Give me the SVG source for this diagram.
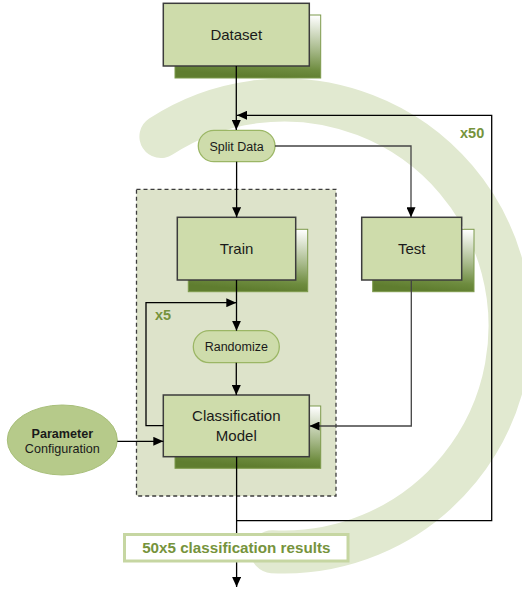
<svg xmlns="http://www.w3.org/2000/svg" width="522" height="591" viewBox="0 0 522 591">
<defs>
<linearGradient id="shadowGrad" x1="0.9" y1="0" x2="0.75" y2="1">
<stop offset="0" stop-color="#ffffff"/>
<stop offset="0.55" stop-color="#a4b786"/>
<stop offset="0.85" stop-color="#6e8c3f"/>
<stop offset="1" stop-color="#5f7d2f"/>
</linearGradient>
<marker id="arr" markerUnits="userSpaceOnUse" markerWidth="11" markerHeight="9" refX="10" refY="4.5" orient="auto">
<path d="M0,0 L10,4.5 L0,9 z" fill="#000"/>
</marker>
</defs>
<style>
.box{fill:#cedcab;stroke:#3c3c3c;stroke-width:1.5}
.shadow{fill:url(#shadowGrad);stroke:#7d9a4c;stroke-width:1}
.pill{fill:#cedcab;stroke:#9bb665;stroke-width:1.3}
.t{font-family:"Liberation Sans",Arial,sans-serif;fill:#1a1a1a;text-anchor:middle}
.big{font-size:15px}
.small{font-size:12.5px}
.rep{font-family:"Liberation Sans",Arial,sans-serif;font-weight:bold;font-size:14.5px;fill:#76933c}
.ln{fill:none;stroke:#000;stroke-width:1.3}
.lg{fill:none;stroke:#444;stroke-width:1.3}
</style>
<rect width="522" height="591" fill="#fff"/>
<path d="M 160.9 136.5 A 226 226 0 1 1 272.2 551.7" fill="none" stroke="#e1e9d0" stroke-width="43" stroke-linecap="round"/>
<g id="container">
<rect x="136.5" y="189.3" width="199.5" height="306.7" fill="#dde3ca" stroke="#3c3c3c" stroke-width="1.3" stroke-dasharray="4,3"/>
</g>
<g id="dataset">
<rect class="shadow" x="175" y="15" width="145.7" height="63"/>
<rect class="box" x="163.3" y="3.3" width="146" height="62.7"/>
<text class="t big" x="236.3" y="40.3">Dataset</text>
</g>
<g id="split">
<rect class="pill" x="198.3" y="130.3" width="76.7" height="31.4" rx="15.7"/>
<text class="t small" x="236.6" y="150.5">Split Data</text>
</g>
<g id="train">
<rect class="shadow" x="188.3" y="229.3" width="119.4" height="62.4"/>
<rect class="box" x="177.3" y="217.3" width="118.4" height="62.7"/>
<text class="t big" x="236.5" y="253.5">Train</text>
</g>
<g id="test">
<rect class="shadow" x="372.7" y="229.3" width="101.3" height="62.4"/>
<rect class="box" x="361.7" y="217.3" width="100" height="62.7"/>
<text class="t big" x="411.7" y="253.5">Test</text>
</g>
<g id="randomize">
<rect class="pill" x="193.3" y="330.7" width="86" height="32" rx="16"/>
<text class="t small" x="236.3" y="351.2">Randomize</text>
</g>
<g id="model">
<rect class="shadow" x="175" y="406" width="145.7" height="62.3"/>
<rect class="box" x="163.3" y="395" width="146" height="61.7"/>
<text class="t big" x="236.3" y="421">Classification</text>
<text class="t big" x="236.3" y="440.5">Model</text>
</g>
<g id="param">
<ellipse cx="62.3" cy="440" rx="55" ry="35" fill="#b6ca8a" stroke="#a8bf7a" stroke-width="1"/>
<text class="t" x="62.3" y="437.5" font-size="12.6" font-weight="bold">Parameter</text>
<text class="t" x="62.3" y="452.5" font-size="12.6">Configuration</text>
</g>
<g id="connectors">
<path class="ln" d="M236.3,66 V130" marker-end="url(#arr)"/>
<path class="ln" d="M236.6,161.7 V217.3" marker-end="url(#arr)"/>
<path class="lg" d="M275,146 H411 V217.3" marker-end="url(#arr)"/>
<path class="ln" d="M236.5,280 V330.7" marker-end="url(#arr)"/>
<path class="ln" d="M236.3,362.7 V395" marker-end="url(#arr)"/>
<path class="ln" d="M163.3,425.7 H146 V302.7 H236.3" marker-end="url(#arr)"/>
<path class="lg" d="M411.3,280 V426 H309.5" marker-end="url(#arr)"/>
<path class="ln" d="M117.3,441.3 H163.3" marker-end="url(#arr)"/>
<path class="ln" d="M236.6,456.7 V520.7 H491.7 V115.3 H237" marker-end="url(#arr)"/>
<path class="ln" d="M236.6,520.7 V587" marker-end="url(#arr)"/>
</g>
<text class="rep" x="155" y="320">x5</text>
<text class="rep" x="460" y="137.5">x50</text>
<g id="results">
<rect x="124.5" y="534.5" width="223.5" height="26.5" fill="#fff" stroke="#c6d6a2" stroke-width="3"/>
<text x="236.3" y="552.5" font-family="'Liberation Sans',Arial,sans-serif" font-weight="bold" font-size="15.2" fill="#76933c" text-anchor="middle">50x5 classification results</text>
</g>
</svg>
